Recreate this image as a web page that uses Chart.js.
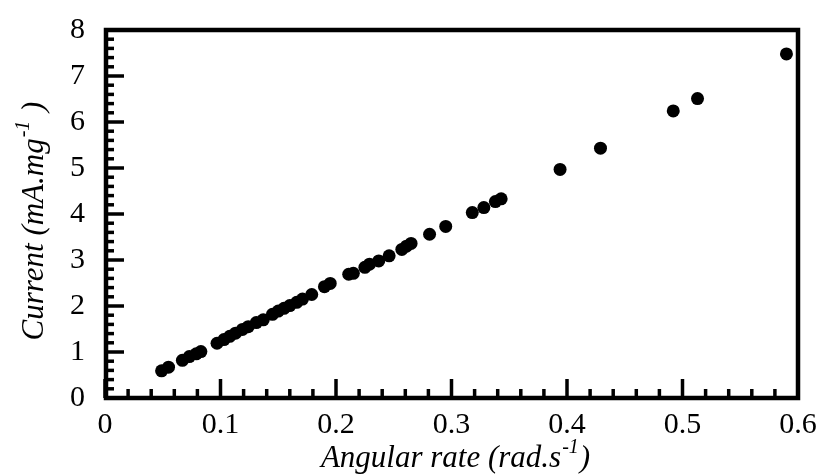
<!DOCTYPE html>
<html>
<head>
<meta charset="utf-8">
<script src="https://cdn.jsdelivr.net/npm/chart.js@4/dist/chart.umd.min.js"></script>
<style>
  body { margin: 0; background: #fff; }
  #wrap { width: 819px; height: 474px; }
</style>
</head>
<body>
<div id="wrap"><canvas id="chart" width="819" height="474"></canvas></div>
<script>
// values
const angularRate = [0.049, 0.055, 0.067, 0.073, 0.079, 0.083, 0.097, 0.103, 0.108, 0.113,
  0.119, 0.124, 0.131, 0.137, 0.145, 0.150, 0.155, 0.160, 0.166, 0.171,
  0.179, 0.190, 0.195, 0.211, 0.215, 0.225, 0.229, 0.237, 0.246, 0.257,
  0.261, 0.265, 0.281, 0.295, 0.318, 0.328, 0.338, 0.343, 0.394, 0.429,
  0.492, 0.513, 0.590];
const current = [0.59, 0.67, 0.82, 0.90, 0.96, 1.01, 1.19, 1.27, 1.34, 1.41,
  1.49, 1.55, 1.64, 1.70, 1.82, 1.89, 1.95, 2.01, 2.08, 2.15,
  2.25, 2.42, 2.49, 2.69, 2.71, 2.84, 2.91, 2.98, 3.09, 3.23,
  3.30, 3.36, 3.56, 3.73, 4.03, 4.14, 4.27, 4.33, 4.97, 5.43,
  6.24, 6.51, 7.48];

const xTickLabels = ['0', '0.1', '0.2', '0.3', '0.4', '0.5', '0.6'];
const yTickLabels = ['0', '1', '2', '3', '4', '5', '6', '7', '8'];

// title parts: text, superscript, closing text
const xTitle = ['Angular rate (rad.s', '-1', ')'];
const yTitle = ['Current (mA.mg', '-1', ' )'];

const serif = "'Liberation Serif', 'Times New Roman', serif";

// frame plus inward major/minor tick marks
const framePlugin = {
  id: 'frame',
  beforeDatasetsDraw(chart) {
    const { ctx, chartArea: a, scales: { x, y } } = chart;
    ctx.save();
    ctx.strokeStyle = '#000';
    ctx.lineCap = 'butt';
    ctx.lineWidth = 3.5;
    for (let i = 0; i <= 30; i++) {
      const px = x.getPixelForValue(i * 0.02);
      const len = i % 5 === 0 ? 19 : 9;
      ctx.beginPath();
      ctx.moveTo(px, a.bottom);
      ctx.lineTo(px, a.bottom - len);
      ctx.stroke();
    }
    for (let i = 0; i <= 40; i++) {
      const py = y.getPixelForValue(i * 0.2);
      const len = i % 5 === 0 ? 19 : 9;
      ctx.beginPath();
      ctx.moveTo(a.left, py);
      ctx.lineTo(a.left + len, py);
      ctx.stroke();
    }
    ctx.lineWidth = 4.5;
    ctx.strokeRect(a.left + 1, a.top, a.right - a.left - 1, a.bottom - a.top);
    ctx.restore();
  },
  afterDraw(chart) {
    const { ctx, chartArea: a } = chart;
    const big = 'italic 31px ' + serif;
    const small = 'italic 20px ' + serif;
    function drawTitle(parts, cx, baseline) {
      ctx.font = big;
      const w0 = ctx.measureText(parts[0]).width;
      const w2 = ctx.measureText(parts[2]).width;
      ctx.font = small;
      const w1 = ctx.measureText(parts[1]).width;
      let x0 = cx - (w0 + w1 + w2) / 2;
      ctx.textAlign = 'left';
      ctx.textBaseline = 'alphabetic';
      ctx.font = big;
      ctx.fillText(parts[0], x0, baseline);
      ctx.font = small;
      ctx.fillText(parts[1], x0 + w0 + 1, baseline - 14);
      ctx.font = big;
      ctx.fillText(parts[2], x0 + w0 + w1 + 2, baseline);
    }
    ctx.save();
    ctx.fillStyle = '#000';
    drawTitle(xTitle, (a.left + a.right) / 2 + 3, 467);
    ctx.translate(43, 222);
    ctx.rotate(-Math.PI / 2);
    drawTitle(yTitle, 0, 0);
    ctx.restore();
  }
};

const ctx = document.getElementById('chart').getContext('2d');

new Chart(ctx, {
  type: 'scatter',
  data: {
    datasets: [{
      data: angularRate.map((v, i) => ({ x: v, y: current[i] })),
      backgroundColor: '#000',
      borderWidth: 0,
      pointRadius: 6.5,
      pointHoverRadius: 6.5
    }]
  },
  options: {
    responsive: false,
    animation: false,
    layout: { autoPadding: false, padding: { top: 30, right: 21, left: 0, bottom: 0 } },
    plugins: {
      legend: { display: false },
      tooltip: { enabled: false }
    },
    scales: {
      x: {
        type: 'linear',
        min: 0,
        max: 0.6,
        grid: { display: false, drawTicks: false },
        border: { display: false },
        afterFit(scale) {
          scale.height = 76;
          scale.paddingLeft = 0;
          scale.paddingRight = 0;
        },
        ticks: {
          stepSize: 0.1,
          autoSkip: false,
          maxRotation: 0,
          padding: 9,
          color: '#000',
          font: { family: serif, size: 30 },
          callback: (v, i) => xTickLabels[i]
        }
      },
      y: {
        type: 'linear',
        min: 0,
        max: 8,
        grid: { display: false, drawTicks: false },
        border: { display: false },
        afterFit(scale) {
          scale.width = 105;
          scale.paddingTop = 0;
          scale.paddingBottom = 0;
        },
        ticks: {
          stepSize: 1,
          autoSkip: false,
          padding: 20,
          color: '#000',
          font: { family: serif, size: 30 },
          callback: (v, i) => yTickLabels[i]
        }
      }
    }
  },
  plugins: [framePlugin]
});
</script>
</body>
</html>
